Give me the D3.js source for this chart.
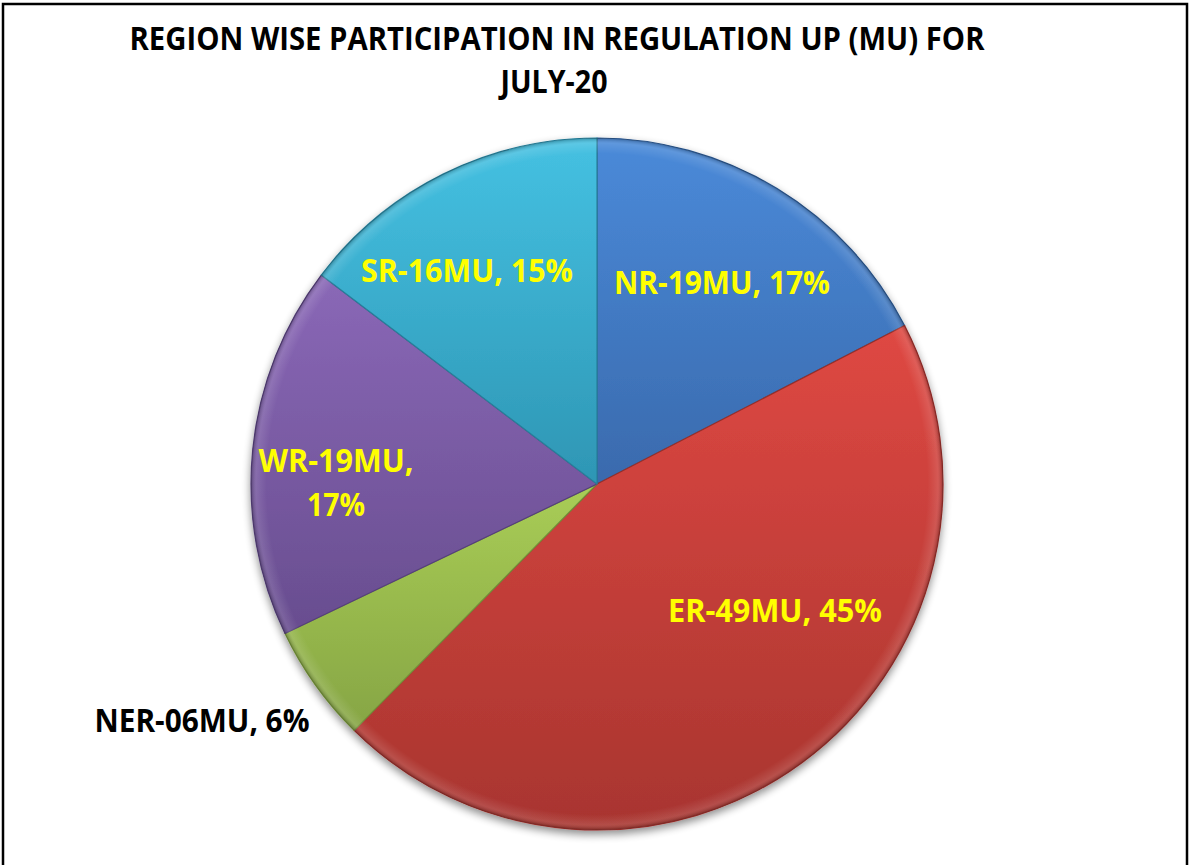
<!DOCTYPE html>
<html>
<head>
<meta charset="utf-8">
<script src="https://cdn.jsdelivr.net/npm/d3@7"></script>
<style>
  html, body { margin: 0; padding: 0; background: #fff; }
  svg { display: block; }
</style>
</head>
<body>
<svg id="chart" width="1192" height="865"></svg>
<script>
// ---- data ----
const regions = ["NR", "ER", "NER", "WR", "SR"];
const energyMU = [19, 49, 6, 19, 16];
const muLabels = ["19MU", "49MU", "06MU", "19MU", "16MU"];
const pctLabels = ["17%", "45%", "6%", "17%", "15%"];
const titleLines = ["REGION WISE PARTICIPATION IN REGULATION UP (MU) FOR", "JULY-20"];

// ---- styling / layout ----
const topColors = ["#4a8ad9", "#df4843", "#a9cd56", "#8a68b7", "#45c1e2"];
const bottomColors = ["#3a6aad", "#a8352f", "#86a544", "#684d8f", "#2e96b4"];
const edgeColors = ["#2c5890", "#962f2b", "#73903a", "#56407a", "#27809b"];
const labelColors = ["#ffff00", "#ffff00", "#000000", "#ffff00", "#ffff00"];
// label anchor offsets relative to pie centre (layout only)
const labelOffsets = [[125, -201], [178, 127], [-395, 237], [-261, -1], [-130, -213]];
const labelLines = [1, 1, 1, 2, 1];
const fontSize = 32;

const W = 1192, H = 865;
const cx = 597, cy = 484, R = 346;

const svg = d3.select("#chart");

// frame
svg.append("path")
  .attr("d", `M3,${H} L3,4 L1187,4 L1187,${H}`)
  .attr("fill", "none").attr("stroke", "#000").attr("stroke-width", 2.5);

const defs = svg.append("defs");
regions.forEach((r, i) => {
  const g = defs.append("linearGradient")
    .attr("id", "grad" + i)
    .attr("x1", 0).attr("y1", 0).attr("x2", 0).attr("y2", 1);
  g.append("stop").attr("offset", "0%").attr("stop-color", topColors[i]);
  g.append("stop").attr("offset", "100%").attr("stop-color", bottomColors[i]);
});
// rim bevel highlight
const rim = defs.append("radialGradient").attr("id", "rim")
  .attr("gradientUnits", "userSpaceOnUse")
  .attr("cx", cx).attr("cy", cy).attr("r", R);
rim.append("stop").attr("offset", "0.955").attr("stop-color", "#fff").attr("stop-opacity", 0);
rim.append("stop").attr("offset", "0.985").attr("stop-color", "#fff").attr("stop-opacity", 0.12);
rim.append("stop").attr("offset", "1").attr("stop-color", "#000").attr("stop-opacity", 0.25);

const shadow = defs.append("filter").attr("id", "shadow")
  .attr("x", "-10%").attr("y", "-10%").attr("width", "120%").attr("height", "125%");
shadow.append("feGaussianBlur").attr("in", "SourceAlpha").attr("stdDeviation", 4);
shadow.append("feOffset").attr("dx", 0).attr("dy", 4).attr("result", "ob");
shadow.append("feComponentTransfer").append("feFuncA").attr("type", "linear").attr("slope", 0.45);
const merge = shadow.append("feMerge");
merge.append("feMergeNode");
merge.append("feMergeNode").attr("in", "SourceGraphic");

// title
const title = svg.append("g");
title.append("text")
  .attr("x", 557).attr("y", 50)
  .attr("text-anchor", "middle")
  .attr("font-family", "'Open Sans', sans-serif").attr("font-weight", 700)
  .attr("font-size", fontSize).attr("fill", "#000")
  .attr("textLength", 855).attr("lengthAdjust", "spacingAndGlyphs")
  .text(titleLines[0]);
title.append("text")
  .attr("x", 554).attr("y", 93)
  .attr("text-anchor", "middle")
  .attr("font-family", "'Open Sans', sans-serif").attr("font-weight", 700)
  .attr("font-size", fontSize).attr("fill", "#000")
  .attr("textLength", 107).attr("lengthAdjust", "spacingAndGlyphs")
  .text(titleLines[1]);

// pie
const pie = d3.pie().sort(null).value(d => d.v);
const arc = d3.arc().innerRadius(0).outerRadius(R);
const data = regions.map((r, i) => ({ r, v: energyMU[i], i }));
const arcs = pie(data);

const g = svg.append("g").attr("transform", `translate(${cx},${cy})`);
const slices = g.append("g").attr("filter", "url(#shadow)");
slices.selectAll("path.slice")
  .data(arcs).join("path")
  .attr("class", "slice")
  .attr("d", arc)
  .attr("fill", d => `url(#grad${d.data.i})`)
  .attr("stroke", d => edgeColors[d.data.i])
  .attr("stroke-width", 1.2)
  .attr("stroke-linejoin", "round");

// bevel overlay
svg.append("circle")
  .attr("cx", cx).attr("cy", cy).attr("r", R)
  .attr("fill", "url(#rim)").attr("pointer-events", "none");

// labels
const lab = g.append("g");
const singleWidths = [216, 214, 215, 0, 212];
arcs.forEach((d) => {
  const i = d.data.i;
  const [ox, oy] = labelOffsets[i];
  const fullText = `${regions[i]}-${muLabels[i]}, ${pctLabels[i]}`;
  const lines = labelLines[i] === 1 ? [fullText] : [`${regions[i]}-${muLabels[i]},`, pctLabels[i]];
  const lh = 44;
  const y0 = oy - (lines.length - 1) * lh / 2;
  lines.forEach((ln, j) => {
    lab.append("text")
      .attr("x", ox).attr("y", y0 + j * lh)
      .attr("dy", "0.35em")
      .attr("text-anchor", "middle")
      .attr("font-family", "'Open Sans', sans-serif").attr("font-weight", 700)
      .attr("font-size", fontSize).attr("fill", labelColors[i])
      .attr("textLength", lines.length === 1 ? singleWidths[i] : (j === 0 ? 155 : 58))
      .attr("lengthAdjust", "spacingAndGlyphs")
      .text(ln);
  });
});
</script>
</body>
</html>
